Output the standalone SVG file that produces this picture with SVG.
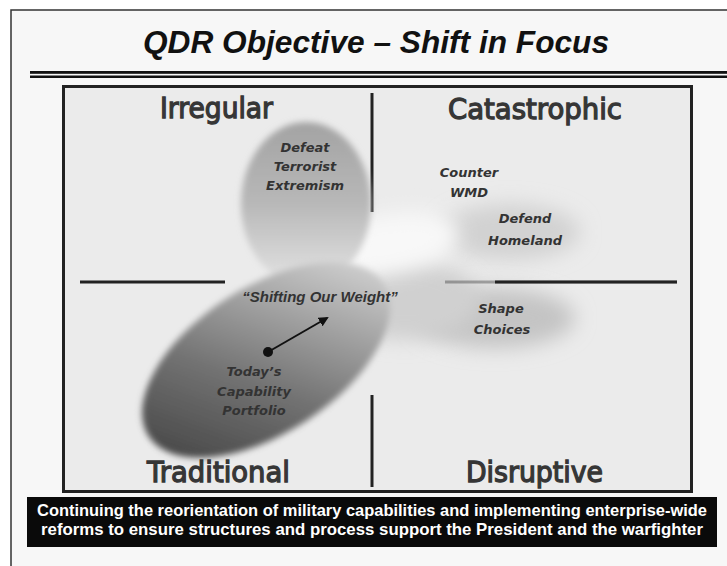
<svg xmlns="http://www.w3.org/2000/svg" width="727" height="566" viewBox="0 0 727 566">
  <defs>
    <style>
      .quad { font-family: "DejaVu Sans", "Liberation Sans", sans-serif; font-weight: normal; font-size: 28px; fill: #363636; stroke: #363636; stroke-width: 1.3; }
      .lbl { font-family: "DejaVu Sans", "Liberation Sans", sans-serif; font-weight: bold; font-style: italic; font-size: 13px; fill: #333; text-anchor: middle; }
      .div { stroke: #222; stroke-width: 3; fill: none; }
      .banner { font-family: "Liberation Sans", Arial, sans-serif; font-weight: bold; font-size: 16.5px; fill: #fff; text-anchor: middle; }
    </style>
    <linearGradient id="bigGrad" gradientUnits="userSpaceOnUse" x1="170" y1="445" x2="400" y2="270">
      <stop offset="0" stop-color="#474747"/>
      <stop offset="0.35" stop-color="#727272"/>
      <stop offset="0.7" stop-color="#b0b0b0"/>
      <stop offset="1" stop-color="#e6e6e6"/>
    </linearGradient>
    <linearGradient id="topGrad" gradientUnits="userSpaceOnUse" x1="0" y1="122" x2="0" y2="285">
      <stop offset="0" stop-color="#a3a3a3"/>
      <stop offset="0.5" stop-color="#b8b8b8"/>
      <stop offset="1" stop-color="#e4e4e4"/>
    </linearGradient>
    <filter id="blur10" x="-50%" y="-50%" width="200%" height="200%">
      <feGaussianBlur stdDeviation="10"/>
    </filter>
    <filter id="blur4" x="-20%" y="-20%" width="140%" height="140%">
      <feGaussianBlur stdDeviation="3"/>
    </filter>
    <marker id="arrow" viewBox="0 0 10 10" refX="8" refY="5" markerWidth="5" markerHeight="5" orient="auto">
      <path d="M0,0 L10,5 L0,10 z" fill="#111"/>
    </marker>
  </defs>

  <rect width="727" height="566" fill="#ffffff"/>

  <!-- slide frame -->
  <g id="frame">
    <rect x="11" y="10" width="716" height="556" fill="#f7f7f7"/>
    <path d="M11,566 V10 H727" stroke="#333" stroke-width="1.5" fill="none"/>
  </g>

  <g id="title">
    <text x="376" y="53" font-family="Liberation Sans, Arial, sans-serif" font-weight="bold" font-style="italic" font-size="31" fill="#111" text-anchor="middle" textLength="466" lengthAdjust="spacingAndGlyphs">QDR Objective – Shift in Focus</text>
    <rect x="30" y="71" width="697" height="2.8" fill="#111"/>
    <rect x="30" y="75.5" width="697" height="2.5" fill="#111"/>
  </g>

  <!-- quadrant box -->
  <g id="box">
    <rect x="63.5" y="86.5" width="628" height="405" fill="#ebebeb" stroke="#222" stroke-width="3"/>
  </g>

  <!-- soft clouds -->
  <g id="clouds">
    <ellipse cx="510" cy="232" rx="70" ry="28" fill="#d2d2d2" filter="url(#blur10)"/>
    <ellipse cx="495" cy="318" rx="80" ry="30" fill="#c4c4c4" filter="url(#blur10)"/>
    <ellipse cx="405" cy="300" rx="75" ry="40" fill="#d0d0d0" filter="url(#blur10)"/>
    <ellipse cx="385" cy="245" rx="75" ry="30" transform="rotate(-10 385 245)" fill="#f8f8f8" filter="url(#blur10)"/>
  </g>

  <!-- dividers -->
  <g id="dividers">
    <line class="div" x1="372" y1="93" x2="372" y2="212"/>
    <line class="div" x1="372" y1="395" x2="372" y2="487"/>
    <line class="div" x1="80" y1="282" x2="225" y2="282"/>
    <line x1="445" y1="282" x2="677" y2="282" stroke="#222" stroke-width="3" opacity="0.35"/>
    <line class="div" x1="495" y1="282" x2="677" y2="282"/>
  </g>

  <g id="blob-irregular">
    <ellipse cx="306" cy="204" rx="65" ry="82" fill="url(#topGrad)" filter="url(#blur4)"/>
  </g>

  <g id="blob-traditional">
    <ellipse cx="266" cy="360" rx="140" ry="73" transform="rotate(-33 266 360)" fill="url(#bigGrad)" filter="url(#blur4)"/>
  </g>

  <!-- quadrant labels -->
  <g id="q-irregular"><text class="quad" x="160" y="118" textLength="113" lengthAdjust="spacingAndGlyphs">Irregular</text></g>
  <g id="q-catastrophic"><text class="quad" x="448" y="119" textLength="174" lengthAdjust="spacingAndGlyphs">Catastrophic</text></g>
  <g id="q-traditional"><text class="quad" x="147" y="482" textLength="143" lengthAdjust="spacingAndGlyphs">Traditional</text></g>
  <g id="q-disruptive"><text class="quad" x="466" y="482" textLength="137" lengthAdjust="spacingAndGlyphs">Disruptive</text></g>

  <!-- focus labels -->
  <g id="defeat-terrorist">
    <text class="lbl"><tspan x="305" y="152">Defeat</tspan><tspan x="305" y="171">Terrorist</tspan><tspan x="305" y="190">Extremism</tspan></text>
  </g>
  <g id="counter-wmd">
    <text class="lbl"><tspan x="469" y="177">Counter</tspan><tspan x="469" y="197">WMD</tspan></text>
  </g>
  <g id="defend-homeland">
    <text class="lbl"><tspan x="525" y="223">Defend</tspan><tspan x="525" y="245">Homeland</tspan></text>
  </g>
  <g id="shape-choices">
    <text class="lbl"><tspan x="501" y="313">Shape</tspan><tspan x="502" y="334">Choices</tspan></text>
  </g>
  <g id="shifting">
    <text x="320" y="302" font-family="Liberation Sans, Arial, sans-serif" font-weight="bold" font-style="italic" font-size="15" fill="#333" text-anchor="middle">“Shifting Our Weight”</text>
  </g>
  <g id="todays-portfolio">
    <circle cx="268" cy="352" r="5" fill="#111"/>
    <text class="lbl"><tspan x="254" y="376">Today’s</tspan><tspan x="254" y="396">Capability</tspan><tspan x="254" y="415">Portfolio</tspan></text>
  </g>

  <g id="connectors">
    <line x1="268" y1="352" x2="327" y2="318" stroke="#111" stroke-width="2" marker-end="url(#arrow)"/>
  </g>

  <!-- banner -->
  <g id="banner">
    <rect x="27" y="497" width="690" height="50" fill="#0a0a0a"/>
    <text class="banner" x="372" y="516" textLength="670" lengthAdjust="spacingAndGlyphs">Continuing the reorientation of military capabilities and implementing enterprise-wide</text>
    <text class="banner" x="372" y="535" textLength="662" lengthAdjust="spacingAndGlyphs">reforms to ensure structures and process support the President and the warfighter</text>
  </g>
</svg>
